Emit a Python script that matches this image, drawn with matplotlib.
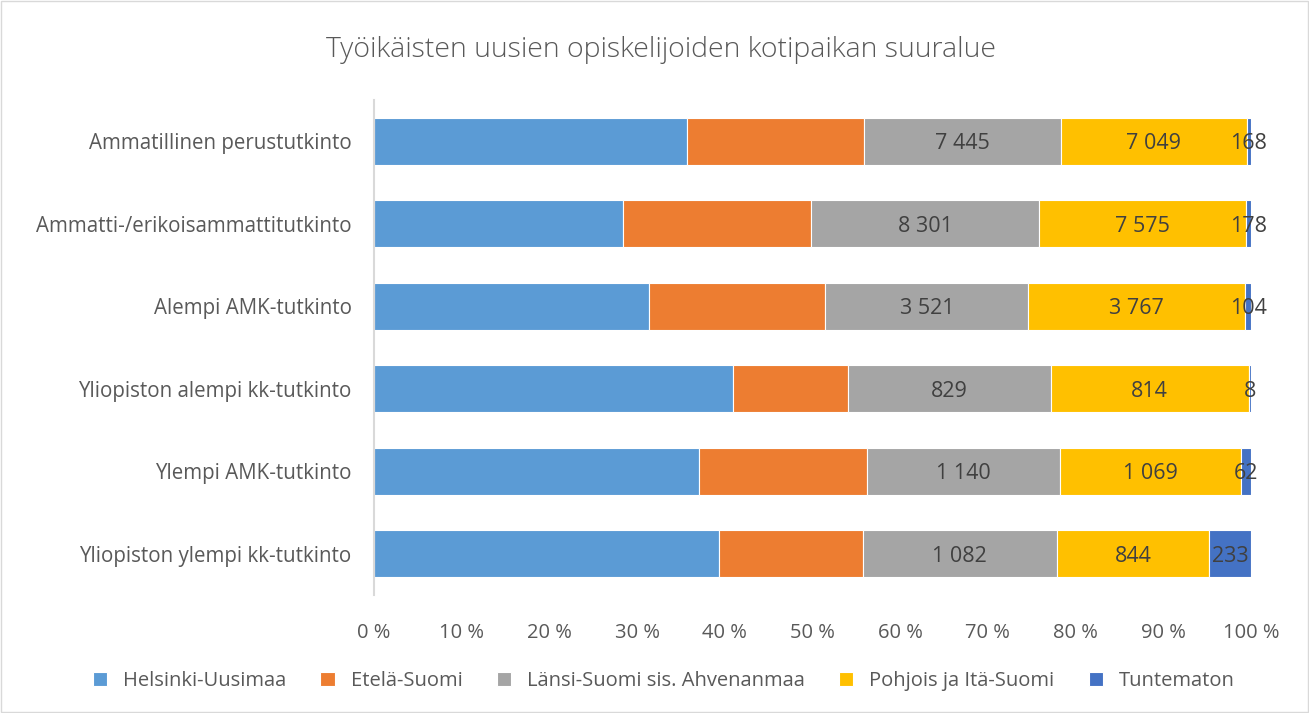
import numpy as np
import matplotlib.pyplot as plt
from matplotlib.patches import Rectangle

plt.rcParams['font.family'] = ['Open Sans', 'DejaVu Sans']

# Categories, top to bottom as in the reference
categories = [
    "Ammatillinen perustutkinto",
    "Ammatti-/erikoisammattitutkinto",
    "Alempi AMK-tutkinto",
    "Yliopiston alempi kk-tutkinto",
    "Ylempi AMK-tutkinto",
    "Yliopiston ylempi kk-tutkinto",
]

series_names = ["Helsinki-Uusimaa", "Etelä-Suomi", "Länsi-Suomi sis. Ahvenanmaa",
                "Pohjois ja Itä-Suomi", "Tuntematon"]

# Helsinki and Etelä values are unlabeled in the source
helsinki = [11880, 9090, 4780, 1470, 1920, 1920]
etela = [6700, 6890, 3060, 475, 990, 795]
lansi = [7445, 8301, 3521, 829, 1140, 1082]
pohjois = [7049, 7575, 3767, 814, 1069, 844]
tuntematon = [168, 178, 104, 8, 62, 233]

colors = ["#5B9BD5", "#ED7D31", "#A5A5A5", "#FFC000", "#4472C4"]
labeled = [False, False, True, True, True]

data = np.array([helsinki, etela, lansi, pohjois, tuntematon], dtype=float)
shares = data / data.sum(axis=0) * 100


def fmt(v):
    return f"{int(v):,}".replace(",", " ")


fig = plt.figure(figsize=(13.09, 7.13), dpi=100)
ax = fig.add_axes([0.2857, 0.1655, 0.670, 0.6945])

y = np.arange(len(categories))
left = np.zeros(len(categories))
for i, name in enumerate(series_names):
    ax.barh(y, shares[i], left=left, height=0.57, color=colors[i],
            edgecolor="white", linewidth=0.8, label=name)
    if labeled[i]:
        for j in range(len(categories)):
            ax.text(left[j] + shares[i][j] / 2, y[j], fmt(data[i][j]),
                    ha="center", va="center_baseline", fontsize=15.5, color="#404040")
    left += shares[i]

ax.set_xlim(0, 100)
ax.set_ylim(len(categories) - 0.5, -0.5)
ax.set_yticks(y)
ax.set_yticklabels(categories, fontsize=14.8, color="#595959")
ax.set_xticks(np.arange(0, 101, 10))
ax.set_xticklabels([f"{v} %" for v in range(0, 101, 10)], fontsize=14.5, color="#595959")
ax.tick_params(axis="x", length=0, pad=20)
ax.tick_params(axis="y", length=0, pad=16)
for s in ["top", "right", "bottom"]:
    ax.spines[s].set_visible(False)
ax.spines["left"].set_color("#D9D9D9")
ax.spines["left"].set_linewidth(1.5)

fig.text(0.505, 0.930, "Työikäisten uusien opiskelijoiden kotipaikan suuralue",
         ha="center", va="center", fontsize=20.5, color="#595959", fontweight="light")

fig.legend(loc="center", bbox_to_anchor=(0.507, 0.045), ncol=5, frameon=False,
           fontsize=14.5, labelcolor="#595959", handlelength=0.7, handleheight=0.7,
           columnspacing=1.7, handletextpad=0.8)

fig.patches.append(Rectangle((0.001, 0.001), 0.998, 0.998, transform=fig.transFigure,
                             fill=False, edgecolor="#D9D9D9", linewidth=1))

fig.savefig("out.png", dpi=100)
